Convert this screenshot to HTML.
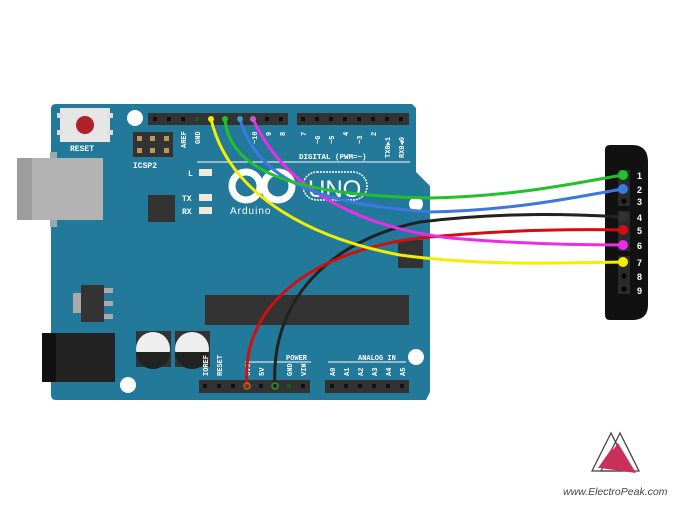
<!DOCTYPE html>
<html><head><meta charset="utf-8"><style>html,body{margin:0;padding:0;background:#fff}svg{display:block}</style></head>
<body>
<svg width="680" height="510" viewBox="0 0 680 510" xmlns="http://www.w3.org/2000/svg" font-family="Liberation Mono, monospace">
<rect width="680" height="510" fill="#fff"/>
<!-- board -->
<path d="M54,104 H412 L416,108 V172 L430,186 V392 L426,400 H56 Q51,400 51,395 V109 Q51,104 56,104 Z" fill="#22799a"/>
<!-- USB -->
<rect x="50" y="152" width="7" height="75" fill="#9aa"/>
<rect x="17" y="158" width="86" height="62" fill="#b3b3b3"/>
<rect x="17" y="158" width="15" height="62" fill="#9d9d9d"/>
<!-- reset -->
<rect x="60" y="108" width="50" height="34" fill="#e6e6e6"/>
<rect x="57" y="113" width="6" height="5" fill="#ddd"/><rect x="57" y="130" width="6" height="5" fill="#ddd"/>
<rect x="107" y="113" width="6" height="5" fill="#ddd"/><rect x="107" y="130" width="6" height="5" fill="#ddd"/>
<circle cx="85" cy="125" r="9" fill="#b0202a"/>
<text x="70" y="151" font-size="8" fill="#fff" font-weight="bold">RESET</text>
<!-- holes -->
<circle cx="135" cy="118" r="8" fill="#fff"/>
<circle cx="128" cy="385" r="8" fill="#fff"/>
<circle cx="416" cy="357" r="8" fill="#fff"/>
<circle cx="416" cy="204" r="7" fill="#fff"/>
<!-- ICSP -->
<rect x="133" y="132" width="40" height="25" fill="#333"/>
<g fill="#b89a5a"><rect x="137" y="136" width="5" height="5"/><rect x="150" y="136" width="5" height="5"/><rect x="164" y="136" width="5" height="5"/><rect x="137" y="148" width="5" height="5"/><rect x="150" y="148" width="5" height="5"/><rect x="164" y="148" width="5" height="5"/></g>
<text x="133" y="168" font-size="8" fill="#fff" font-weight="bold">ICSP2</text>
<!-- top headers -->
<rect x="148" y="113" width="140" height="12" fill="#333"/>
<rect x="297" y="113" width="112" height="12" fill="#333"/>
<g fill="#111">
<rect x="153" y="117" width="4" height="4"/><rect x="167" y="117" width="4" height="4"/><rect x="181" y="117" width="4" height="4"/><rect x="265" y="117" width="4" height="4"/><rect x="279" y="117" width="4" height="4"/>
<rect x="301" y="117" width="4" height="4"/><rect x="315" y="117" width="4" height="4"/><rect x="329" y="117" width="4" height="4"/><rect x="343" y="117" width="4" height="4"/><rect x="357" y="117" width="4" height="4"/><rect x="371" y="117" width="4" height="4"/><rect x="385" y="117" width="4" height="4"/><rect x="399" y="117" width="4" height="4"/>
</g>
<rect x="195" y="117" width="4" height="4" fill="#1a5a1a"/>
<g font-size="7" fill="#fff" font-weight="bold">
<text transform="translate(186,148) rotate(-90)">AREF</text>
<text transform="translate(200,144) rotate(-90)">GND</text>
<text transform="translate(257,144) rotate(-90)">~10</text>
<text transform="translate(271,136) rotate(-90)">9</text>
<text transform="translate(285,136) rotate(-90)">8</text>
<text transform="translate(306,136) rotate(-90)">7</text>
<text transform="translate(320,144) rotate(-90)">~6</text>
<text transform="translate(334,144) rotate(-90)">~5</text>
<text transform="translate(348,136) rotate(-90)">4</text>
<text transform="translate(362,144) rotate(-90)">~3</text>
<text transform="translate(376,136) rotate(-90)">2</text>
<text transform="translate(390,158) rotate(-90)">TX0▶1</text>
<text transform="translate(404,158) rotate(-90)">RX0◀0</text>
<text x="299" y="159" font-size="7.5">DIGITAL (PWM=~)</text>
</g>
<line x1="197" y1="162" x2="410" y2="162" stroke="#fff" stroke-width="1"/>
<!-- LEDs -->
<text x="188" y="176" font-size="8" fill="#fff" font-weight="bold">L</text>
<rect x="199" y="169" width="13" height="7" fill="#f0e8d8"/>
<text x="182" y="201" font-size="8" fill="#fff" font-weight="bold">TX</text>
<rect x="199" y="194" width="13" height="7" fill="#f0e8d8"/>
<text x="182" y="214" font-size="8" fill="#fff" font-weight="bold">RX</text>
<rect x="199" y="207" width="13" height="7" fill="#f0e8d8"/>
<!-- logo -->
<g fill="none" stroke="#fff" stroke-width="7"><circle cx="246" cy="186" r="14"/><circle cx="278" cy="186" r="14"/></g>
<text x="230" y="214" font-size="10" fill="#fff" font-family="Liberation Sans, sans-serif" letter-spacing="1">Arduino</text>
<rect x="303" y="172" width="64" height="28" rx="14" fill="none" stroke="#fff" stroke-width="1.5" stroke-dasharray="2 1"/>
<text x="308" y="197" font-size="24" fill="#fff" font-family="Liberation Sans, sans-serif">UNO</text>
<!-- chips -->
<rect x="148" y="195" width="27" height="27" fill="#333"/>
<rect x="205" y="295" width="204" height="30" fill="#333"/>
<rect x="398" y="240" width="25" height="28" fill="#333"/>
<rect x="73" y="293" width="8" height="20" fill="#aaa"/>
<rect x="81" y="285" width="23" height="37" fill="#333"/>
<rect x="104" y="288" width="9" height="5" fill="#aaa"/><rect x="104" y="301" width="9" height="5" fill="#aaa"/><rect x="104" y="314" width="9" height="5" fill="#aaa"/>
<!-- DC jack -->
<rect x="42" y="333" width="73" height="49" fill="#222"/>
<rect x="42" y="333" width="14" height="49" fill="#111"/>
<!-- caps -->
<rect x="136" y="331" width="35" height="36" fill="#333"/><rect x="175" y="331" width="35" height="36" fill="#333"/>
<circle cx="153" cy="349" r="17" fill="#eee"/><path d="M136,352 A17,17 0 0 0 170,352 Z" fill="#222"/>
<circle cx="192" cy="349" r="17" fill="#eee"/><path d="M175,352 A17,17 0 0 0 209,352 Z" fill="#222"/>
<!-- bottom headers -->
<line x1="245" y1="362" x2="311" y2="362" stroke="#fff"/>
<line x1="328" y1="362" x2="406" y2="362" stroke="#fff"/>
<g font-size="7" fill="#fff" font-weight="bold">
<text x="286" y="360">POWER</text><text x="358" y="360">ANALOG IN</text>
<text transform="translate(208,376) rotate(-90)">IOREF</text>
<text transform="translate(222,376) rotate(-90)">RESET</text>
<text transform="translate(250,376) rotate(-90)">3V3</text>
<text transform="translate(264,376) rotate(-90)">5V</text>
<text transform="translate(292,376) rotate(-90)">GND</text>
<text transform="translate(306,376) rotate(-90)">VIN</text>
<text transform="translate(335,376) rotate(-90)">A0</text>
<text transform="translate(349,376) rotate(-90)">A1</text>
<text transform="translate(363,376) rotate(-90)">A2</text>
<text transform="translate(377,376) rotate(-90)">A3</text>
<text transform="translate(391,376) rotate(-90)">A4</text>
<text transform="translate(405,376) rotate(-90)">A5</text>
</g>
<rect x="199" y="380" width="111" height="13" fill="#333"/>
<rect x="325" y="380" width="84" height="13" fill="#333"/>
<g fill="#111">
<rect x="203" y="384" width="4" height="4"/><rect x="217" y="384" width="4" height="4"/><rect x="231" y="384" width="4" height="4"/><rect x="259" y="384" width="4" height="4"/><rect x="301" y="384" width="4" height="4"/>
<rect x="330" y="384" width="4" height="4"/><rect x="344" y="384" width="4" height="4"/><rect x="358" y="384" width="4" height="4"/><rect x="372" y="384" width="4" height="4"/><rect x="386" y="384" width="4" height="4"/><rect x="400" y="384" width="4" height="4"/>
</g>
<rect x="287" y="384" width="4" height="4" fill="#1a5a1a"/>
<!-- connector -->
<path d="M610,145 H632 Q648,145 648,162 V305 Q648,320 632,320 H610 Q605,320 605,315 V150 Q605,145 610,145 Z" fill="#111"/>
<rect x="618" y="170" width="12" height="36" fill="#2a2a2a"/>
<rect x="618" y="211" width="12" height="40" fill="#2a2a2a"/>
<rect x="618" y="256" width="12" height="38" fill="#2a2a2a"/>
<g fill="#000"><circle cx="624" cy="201" r="2.5"/><circle cx="624" cy="276" r="2.5"/><circle cx="624" cy="289" r="2.5"/></g>
<g font-size="9" fill="#fff" font-weight="bold" font-family="Liberation Sans, sans-serif">
<text x="637" y="179">1</text><text x="637" y="193">2</text><text x="637" y="205">3</text><text x="637" y="221">4</text><text x="637" y="234">5</text><text x="637" y="249">6</text><text x="637" y="266">7</text><text x="637" y="280">8</text><text x="637" y="294">9</text>
</g>
<!-- wires -->
<g fill="none" stroke-width="3" stroke-linecap="round">
<path d="M275,386 C270,300 330,240 420,222 C500,212 570,214 623,217" stroke="#222"/>
<path d="M247,386 C240,300 320,250 420,238 C500,230 570,229 623,230" stroke="#d01010"/>
<path d="M253,119 C290,200 380,230 450,238 C520,244 580,245 623,245" stroke="#ea2ee8"/>
<path d="M211,119 C230,200 320,240 400,255 C480,266 560,263 623,262" stroke="#f2f000"/>
<path d="M240,119 C260,190 340,205 430,212 C520,210 580,196 623,189" stroke="#3b78e0"/>
<path d="M225,119 C230,180 320,196 430,198 C520,196 580,182 623,175" stroke="#22c02a"/>
</g>
<g><circle cx="623" cy="175" r="5" fill="#22c02a"/><circle cx="623" cy="189" r="5" fill="#3b78e0"/><circle cx="623" cy="217" r="5" fill="#333"/><circle cx="623" cy="230" r="5" fill="#d01010"/><circle cx="623" cy="245" r="5" fill="#ea2ee8"/><circle cx="623" cy="262" r="5" fill="#f2f000"/>
<circle cx="211" cy="119" r="3" fill="#f2f000"/><circle cx="225" cy="119" r="3" fill="#22c02a"/><circle cx="240" cy="119" r="3" fill="#3aa0c0"/><circle cx="253" cy="119" r="3" fill="#c060c0"/>
<circle cx="247" cy="386" r="3" fill="none" stroke="#9a7a20" stroke-width="1.5"/><circle cx="275" cy="386" r="3" fill="none" stroke="#2a9a2a" stroke-width="1.5"/></g>
<!-- ElectroPeak logo -->
<g stroke-width="1.3" fill="none">
<path d="M611,433 L592,471 L630,471 Z" stroke="#444"/>
<path d="M620,433 L601,471 L639,471 Z" stroke="#444"/>
<path d="M618,443 L600,468 L636,473 Z" fill="#c8305a" stroke="none"/>
<path d="M612,448 L598,468 L626,468 Z" fill="#c8305a" stroke="none"/>
</g>
<text x="563" y="495" font-size="10.5" fill="#444" font-style="italic" font-family="Liberation Sans, sans-serif">www.ElectroPeak.com</text>
</svg>
</body></html>
